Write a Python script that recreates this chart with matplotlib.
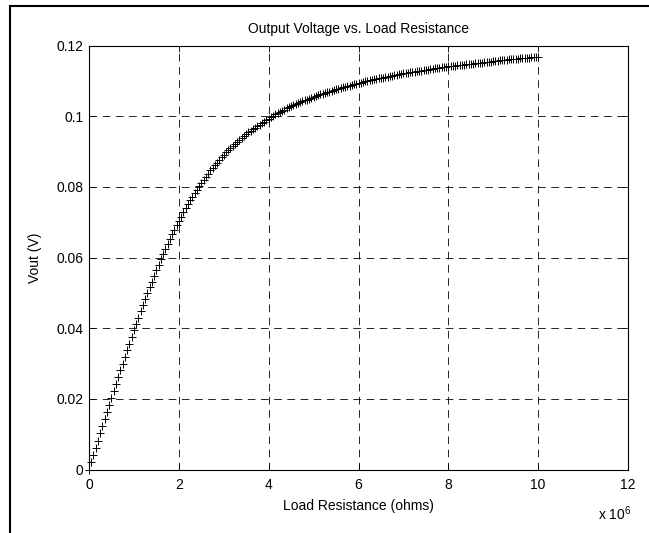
import matplotlib
matplotlib.use('Agg')
import matplotlib.pyplot as plt
import numpy as np
from matplotlib.lines import Line2D
from matplotlib.ticker import FuncFormatter, FixedLocator

plt.rcParams['font.family'] = ['Liberation Sans', 'DejaVu Sans']
plt.rcParams['mathtext.fontset'] = 'custom'
plt.rcParams['mathtext.rm'] = 'Liberation Sans'
plt.rcParams['lines.scale_dashes'] = False

# Output voltage (mV), one sample every 0.05 Mohm from 0 to 10 Mohm
vout_mV = [
    0.00, 2.05, 4.09, 6.13, 8.16, 10.19, 12.20, 14.22, 16.22, 18.21,
    20.20, 22.17, 24.14, 26.09, 28.03, 29.97, 31.86, 33.76, 35.64, 37.49,
    39.34, 41.15, 42.94, 44.73, 46.46, 48.19, 49.91, 51.55, 53.19, 54.83,
    56.38, 57.93, 59.47, 60.94, 62.38, 63.81, 65.23, 66.54, 67.85, 69.16,
    70.43, 71.60, 72.78, 73.96, 75.12, 76.15, 77.18, 78.21, 79.24, 80.23,
    81.11, 81.99, 82.87, 83.75, 84.63, 85.42, 86.15, 86.87, 87.60, 88.32,
    89.05, 89.77, 90.40, 90.97, 91.54, 92.12, 92.69, 93.27, 93.84, 94.42,
    94.99, 95.42, 95.86, 96.29, 96.72, 97.15, 97.58, 98.02, 98.45, 98.88,
    99.31, 99.74, 100.14, 100.48, 100.82, 101.17, 101.51, 101.85, 102.17, 102.46,
    102.75, 103.05, 103.34, 103.63, 103.93, 104.19, 104.44, 104.68, 104.93, 105.18,
    105.43, 105.68, 105.92, 106.14, 106.35, 106.56, 106.76, 106.97, 107.17, 107.38,
    107.59, 107.79, 108.00, 108.17, 108.33, 108.50, 108.67, 108.83, 109.00, 109.17,
    109.34, 109.50, 109.67, 109.84, 110.00, 110.14, 110.27, 110.40, 110.53, 110.67,
    110.80, 110.93, 111.06, 111.19, 111.32, 111.46, 111.59, 111.72, 111.85, 111.99,
    112.09, 112.19, 112.29, 112.39, 112.49, 112.59, 112.69, 112.79, 112.89, 112.99,
    113.09, 113.19, 113.30, 113.40, 113.50, 113.60, 113.70, 113.80, 113.90, 114.00,
    114.08, 114.15, 114.22, 114.30, 114.37, 114.44, 114.52, 114.59, 114.66, 114.74,
    114.81, 114.88, 114.96, 115.03, 115.10, 115.18, 115.25, 115.32, 115.40, 115.47,
    115.54, 115.62, 115.69, 115.76, 115.84, 115.91, 115.99, 116.05, 116.10, 116.16,
    116.21, 116.27, 116.33, 116.38, 116.44, 116.50, 116.55, 116.61, 116.67, 116.72,
    116.78,
]
load_step_ohms = 5e4
load_ohms = np.arange(len(vout_mV)) * load_step_ohms
vout = np.array(vout_mV) / 1000.0

x_ticks = [0, 2e6, 4e6, 6e6, 8e6, 10e6, 12e6]
y_ticks = [0, 0.02, 0.04, 0.06, 0.08, 0.10, 0.12]

title = 'Output Voltage vs. Load Resistance'
xlabel = 'Load Resistance (ohms)'
ylabel = 'Vout (V)'

W, H = 649, 533
fig = plt.figure(figsize=(W / 100, H / 100), dpi=100)
L, R, T, B = 89, 628, 45.5, 469.5
ax = fig.add_axes([L / W, 1 - B / H, (R - L) / W, (B - T) / H])

ax.plot(load_ohms, vout, linestyle='none', marker='+', color='black',
        markersize=6, markeredgewidth=0.7, clip_on=False, zorder=3)

ax.set_xlim(0, 12e6)
ax.set_ylim(0, 0.12)
ax.xaxis.set_major_locator(FixedLocator(x_ticks))
ax.yaxis.set_major_locator(FixedLocator(y_ticks))
ax.xaxis.set_major_formatter(FuncFormatter(lambda v, p: f'{v / 1e6:g}'))
ax.yaxis.set_major_formatter(FuncFormatter(lambda v, p: f'{v:g}'))

ax.grid(True, color='black', linestyle=(0, (5.5, 4)), linewidth=0.6)
ax.tick_params(direction='in', top=True, right=True, length=4, width=0.6,
               labelsize=10, pad=4)
ax.tick_params(axis='x', pad=6)
for s in ax.spines.values():
    s.set_linewidth(0.8)

ax.set_title(title, fontsize=10, pad=9)
ax.set_xlabel(xlabel, fontsize=10, labelpad=5)
ax.set_ylabel(ylabel, fontsize=10, labelpad=10)

fig.text(598 / W, 1 - 514 / H, r'x $\mathregular{10^6}$', fontsize=10,
         ha='left', va='center')

# page frame lines at left and top
fig.add_artist(Line2D([10 / W, 10 / W], [0, 1 - 6 / H], transform=fig.transFigure,
                      color='black', linewidth=1.5))
fig.add_artist(Line2D([10 / W, 1], [1 - 6 / H, 1 - 6 / H], transform=fig.transFigure,
                      color='black', linewidth=1.5))

fig.savefig('out.png', dpi=100)
